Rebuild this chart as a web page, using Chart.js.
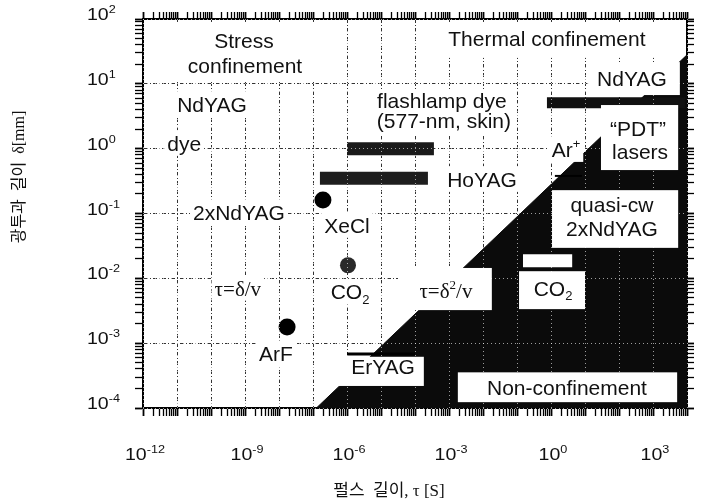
<!DOCTYPE html>
<html>
<head>
<meta charset="utf-8">
<title>Confinement regimes</title>
<script src="https://cdn.jsdelivr.net/npm/chart.js@4.4.1/dist/chart.umd.min.js"></script>
<style>
html,body{margin:0;padding:0;background:#fff;}
#wrap{position:relative;width:701px;height:501px;}
</style>
</head>
<body>
<div id="wrap"><canvas id="chart"></canvas></div>
<script>
// ===== data =====
// axis ranges: pulse length tau [s], penetration depth delta [mm]
const tauRange = [1e-12, 1e4];
const deltaRange = [1e-4, 1e2];
// tick labels (powers of ten)
const tauTickExponents = [-12, -9, -6, -3, 0, 3];
const deltaTickExponents = [2, 1, 0, -1, -2, -3, -4];
// lasers drawn as dots
const dotLasers = ['XeCl', 'CO2', 'ArF'];
const dotTau = [1.96e-7, 1.07e-6, 1.73e-8];
const dotDelta = [0.162, 0.0159, 1.77e-3];
// lasers drawn as bars (tau range at one delta)
const barLasers = ['flashlamp dye', 'HoYAG', 'NdYAG', 'ErYAG', 'CO2 (cw)', 'Ar+'];
const barTauStart = [1.0e-6, 1.6e-7, 0.76, 1.0e-6, 0.15, 1.3];
const barTauEnd = [3.6e-4, 2.4e-4, 8.7e3, 1.0e-4, 4.2, 8.1];
const barDelta = [1.0, 0.35, 5.1, 6.8e-4, 0.0186, 0.38];
// thermal confinement boundary tau = delta^2/v (end points)
const boundaryTau = [1.26e-7, 1e4];
const boundaryDelta = [1e-4, 28];
// axis titles
const xTitle = '펄스  길이, τ [S]';
const yTitle = '광투과  길이  δ[mm]';

// ===== styling / layout (not data) =====
const SANS = '"Liberation Sans", Arial, Helvetica, sans-serif';
const SERIF = '"Liberation Serif", "Times New Roman", serif';
const TITLEF = '"Liberation Serif", "Noto Sans CJK KR", serif';
const barWidths = [13, 13, 11, 3, 13, 2];
const barColors = ['#1a1a1a', '#1e1e1e', '#111111', '#000000', '#ffffff', '#000000'];
const dotRadii = [8.5, 8, 8.5];
const dotColors = ['#000000', '#2a2a2a', '#000000'];

// white panels in log10 axis units: [tau1, tau2, deltaTop, deltaBottom]
const panels = [
  [-11.79, -6.5, 1.954, 1.03],   // stress confinement caption area
  [-3.26, 3.21, 1.954, 1.40],    // thermal confinement caption area
  [-5.26, -1.06, 0.904, 0.225],  // flashlamp dye caption area
  [-6.26, -3.74, -3.21, -3.66],  // ErYAG box
  [-4.5, -1.74, -1.84, -2.49],   // tau=delta^2/v box
  [-0.94, 1.0, -1.89, -2.475],   // CO2 box
  [0.03, 3.74, -0.64, -1.53],    // quasi-cw box
  [1.47, 3.74, 0.673, -0.33],    // PDT box
  [-2.74, 3.71, -3.45, -3.91],   // Non-confinement box
  [1.09, 3.79, 1.336, 0.827]     // NdYAG box
];
// labels: parts, centre in log10 axis units, font, white background
const labels = [
  {p:[['Stress']], at:[-9.03, 1.676]},
  {p:[['confinement']], at:[-9.0, 1.29]},
  {p:[['Thermal confinement']], at:[-0.12, 1.70]},
  {p:[['NdYAG']], at:[-9.97, 0.68], bg:1},
  {p:[['dye']], at:[-10.79, 0.086], bg:1},
  {p:[['2xNdYAG']], at:[-9.18, -0.99], bg:1},
  {p:[['XeCl']], at:[-6.0, -1.18], bg:1},
  {p:[['τ=δ/v']], at:[-9.21, -2.15], f:'serif', bg:1},
  {p:[['CO'],['2','sub']], at:[-5.91, -2.21], bg:1},
  {p:[['ArF']], at:[-8.09, -3.16], bg:1},
  {p:[['ErYAG']], at:[-4.94, -3.36]},
  {p:[['flashlamp dye']], at:[-3.21, 0.75]},
  {p:[['(577-nm, skin)']], at:[-3.15, 0.43]},
  {p:[['HoYAG']], at:[-2.03, -0.47], bg:1},
  {p:[['NdYAG']], at:[2.38, 1.08]},
  {p:[['Ar'],['+','sup']], at:[0.44, -0.01], bg:1},
  {p:[['\u201CPDT\u201D']], at:[2.56, 0.31]},
  {p:[['lasers']], at:[2.62, -0.04]},
  {p:[['quasi-cw']], at:[1.79, -0.86]},
  {p:[['2xNdYAG']], at:[1.79, -1.23]},
  {p:[['τ=δ'],['2','sup'],['/v']], at:[-3.09, -2.18], f:'serif'},
  {p:[['CO'],['2','sub']], at:[0.06, -2.15]},
  {p:[['Non-confinement']], at:[0.47, -3.69]}
];

// ===== helpers =====
function logTicks(lo, hi) {
  const t = [];
  for (let e = lo; e <= hi; e++) {
    for (let k = 1; k <= 9; k++) {
      if (e === hi && k > 1) break;
      t.push({value: k * Math.pow(10, e), major: k === 1});
    }
  }
  return t;
}
function decadeTicks(lo, hi) {
  const t = [];
  for (let e = lo; e <= hi; e++) t.push({value: Math.pow(10, e), major: true});
  return t;
}
function richWidth(ctx, parts, family, size) {
  const small = Math.round(size * 0.62);
  let w = 0;
  parts.forEach(([t, m]) => { ctx.font = (m ? small : size) + 'px ' + family; w += ctx.measureText(t).width; });
  return w;
}
function drawRich(ctx, parts, cx, cy, family, size, opt) {
  opt = opt || {};
  const small = Math.round(size * 0.62);
  const hs = opt.hscale || 1;
  const total = richWidth(ctx, parts, family, size);
  ctx.save();
  ctx.translate(cx, cy);
  if (opt.rotate) ctx.rotate(opt.rotate);
  ctx.scale(hs, 1);
  ctx.textAlign = 'left';
  ctx.textBaseline = 'alphabetic';
  let x = opt.align === 'left' ? 0 : -total / 2;
  const base = size * 0.716 / 2;
  parts.forEach(([t, m]) => {
    ctx.font = (m ? small : size) + 'px ' + family;
    let y = base;
    if (m === 'sup') y = base - size * (opt.supRaise || 0.40);
    else if (m === 'sub') y = base + size * 0.22;
    ctx.fillText(t, x, y);
    x += ctx.measureText(t).width;
  });
  ctx.restore();
  return total * hs;
}

const tickWidth = c => (c.tick && c.tick.major) ? 1.8 : 1.3;
const darkGrid = c => (c.tick && c.tick.major) ? '#333333' : 'rgba(0,0,0,0)';

const overlayPlugin = {
  id: 'overlay',
  afterDraw(chart) {
    const ctx = chart.ctx;
    const xs = chart.scales.x, ys = chart.scales.y;
    const X = v => xs.getPixelForValue(Math.pow(10, v));
    const Y = v => ys.getPixelForValue(Math.pow(10, v));
    const area = chart.chartArea;
    ctx.save();
    // white panels
    ctx.fillStyle = '#ffffff';
    panels.forEach(([a, b, c, d]) => {
      const x1 = X(a), x2 = X(b), y1 = Y(c), y2 = Y(d);
      ctx.fillRect(x1, y1, x2 - x1, y2 - y1);
    });
    // labels
    labels.forEach(l => {
      const fam = l.f === 'serif' ? SERIF : SANS;
      const size = 21;
      const cx = X(l.at[0]), cy = Y(l.at[1]);
      if (l.bg) {
        const w = richWidth(ctx, l.p, fam, size);
        ctx.fillStyle = '#ffffff';
        ctx.fillRect(cx - w / 2 - 3, cy - size * 0.62, w + 6, size * 1.22);
      }
      ctx.fillStyle = '#111111';
      drawRich(ctx, l.p, cx, cy, fam, size);
    });
    // tick labels
    ctx.fillStyle = '#111111';
    tauTickExponents.forEach(e => {
      const px = xs.getPixelForValue(Math.pow(10, e));
      drawRich(ctx, [['10'], [String(e), 'sup']], px + 2, area.bottom + 46, SANS, 17, {hscale: 1.15, supRaise: 0.41});
    });
    deltaTickExponents.forEach(e => {
      const py = ys.getPixelForValue(Math.pow(10, e));
      drawRich(ctx, [['10'], [String(e), 'sup']], area.left - 56, py - 5, SANS, 17, {hscale: 1.15, supRaise: 0.41, align: 'left'});
    });
    // axis titles
    drawRich(ctx, [[xTitle]], (area.left + area.right) / 2 - 26, area.bottom + 82, TITLEF, 17);
    drawRich(ctx, [[yTitle]], area.left - 125, area.top + 158, TITLEF, 16, {rotate: -Math.PI / 2});
    ctx.restore();
  }
};

const datasets = [];
datasets.push({
  label: 'dots',
  data: dotTau.map((t, i) => ({x: t, y: dotDelta[i]})),
  showLine: false,
  pointRadius: dotRadii,
  pointBackgroundColor: dotColors,
  pointBorderWidth: 0,
  order: 1
});
barLasers.forEach((name, i) => {
  datasets.push({
    label: name,
    data: [{x: barTauStart[i], y: barDelta[i]}, {x: barTauEnd[i], y: barDelta[i]}],
    borderColor: barColors[i],
    borderWidth: barWidths[i],
    borderCapStyle: 'butt',
    pointRadius: 0,
    fill: false,
    order: 2
  });
});
datasets.push({
  label: 'non-confinement',
  data: boundaryTau.map((t, i) => ({x: t, y: boundaryDelta[i]})),
  borderColor: '#0b0b0b',
  borderWidth: 1,
  backgroundColor: '#0b0b0b',
  fill: 'start',
  pointRadius: 0,
  order: 10
});

const xCommon = {type: 'logarithmic', min: tauRange[0], max: tauRange[1], ticks: {display: false}};
const yCommon = {type: 'logarithmic', min: deltaRange[0], max: deltaRange[1], ticks: {display: false}};

new Chart(document.getElementById('chart'), {
  type: 'line',
  data: {datasets},
  plugins: [overlayPlugin],
  options: {
    responsive: true,
    maintainAspectRatio: false,
    animation: false,
    events: [],
    layout: {padding: 0},
    plugins: {legend: {display: false}, tooltip: {enabled: false}, title: {display: false}},
    elements: {line: {tension: 0}},
    scales: {
      x: Object.assign({}, xCommon, {
        position: 'bottom',
        afterBuildTicks: s => { s.ticks = logTicks(-12, 4); },
        afterFit: s => { s.height = 93; },
        grid: {color: darkGrid, lineWidth: 1, drawTicks: true, tickLength: 8, tickColor: '#000', tickWidth: tickWidth},
        border: {display: true, color: '#000', width: 2, dash: [4, 2, 1, 2]}
      }),
      xTop: Object.assign({}, xCommon, {
        position: 'top',
        afterBuildTicks: s => { s.ticks = logTicks(-12, 4); },
        afterFit: s => { s.height = 19; },
        grid: {drawOnChartArea: false, drawTicks: true, tickLength: 7, tickColor: '#000', tickWidth: tickWidth},
        border: {display: true, color: '#000', width: 2}
      }),
      xLight: Object.assign({}, xCommon, {
        position: 'bottom',
        afterBuildTicks: s => { s.ticks = decadeTicks(-12, 4); },
        afterFit: s => { s.height = 0; },
        grid: {color: 'rgba(255,255,255,0.6)', lineWidth: 1, drawTicks: false, z: 1},
        border: {display: false, dash: [1, 3]}
      }),
      y: Object.assign({}, yCommon, {
        position: 'left',
        afterBuildTicks: s => { s.ticks = logTicks(-4, 2); },
        afterFit: s => { s.width = 143; },
        grid: {color: darkGrid, lineWidth: 1, drawTicks: true, tickLength: 8, tickColor: '#000', tickWidth: tickWidth},
        border: {display: true, color: '#000', width: 2, dash: [4, 2, 1, 2]}
      }),
      yRight: Object.assign({}, yCommon, {
        position: 'right',
        afterBuildTicks: s => { s.ticks = logTicks(-4, 2); },
        afterFit: s => { s.width = 14; },
        grid: {drawOnChartArea: false, drawTicks: true, tickLength: 7, tickColor: '#000', tickWidth: tickWidth},
        border: {display: true, color: '#000', width: 2}
      }),
      yLight: Object.assign({}, yCommon, {
        position: 'left',
        afterBuildTicks: s => { s.ticks = decadeTicks(-4, 2); },
        afterFit: s => { s.width = 0; },
        grid: {color: 'rgba(255,255,255,0.6)', lineWidth: 1, drawTicks: false, z: 1},
        border: {display: false, dash: [1, 3]}
      })
    }
  }
});
</script>
</body>
</html>
